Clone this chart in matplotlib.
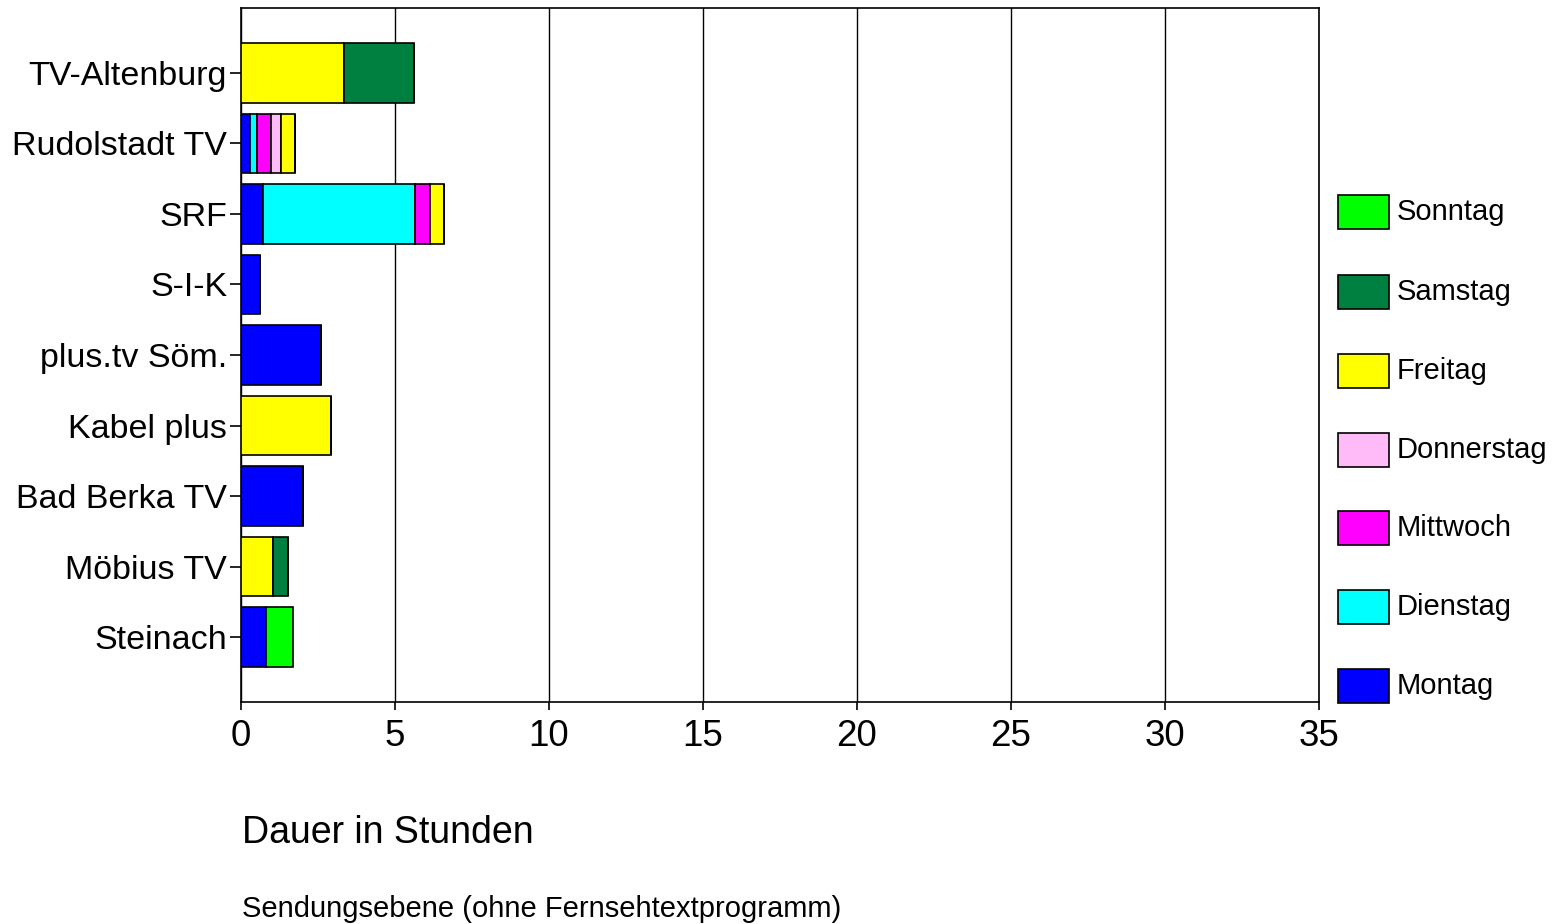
import matplotlib.pyplot as plt
from matplotlib.patches import Rectangle

plt.rcParams['font.family'] = ['Liberation Sans', 'DejaVu Sans']

# Sender von unten nach oben
sender = ["Steinach", "Möbius TV", "Bad Berka TV", "Kabel plus", "plus.tv Söm.",
          "S-I-K", "SRF", "Rudolstadt TV", "TV-Altenburg"]

# Dauer in Stunden je Wochentag
montag     = [0.82, 0.00, 2.01, 0.00, 2.60, 0.62, 0.72, 0.29, 0.00]
dienstag   = [0.00, 0.00, 0.00, 0.00, 0.00, 0.00, 4.94, 0.22, 0.00]
mittwoch   = [0.00, 0.00, 0.00, 0.00, 0.00, 0.00, 0.47, 0.45, 0.00]
donnerstag = [0.00, 0.00, 0.00, 0.00, 0.00, 0.00, 0.00, 0.33, 0.00]
freitag    = [0.00, 1.05, 0.00, 2.92, 0.00, 0.00, 0.45, 0.46, 3.34]
samstag    = [0.00, 0.48, 0.00, 0.00, 0.00, 0.00, 0.00, 0.00, 2.28]
sonntag    = [0.88, 0.00, 0.00, 0.00, 0.00, 0.00, 0.00, 0.00, 0.00]

tage = ["Montag", "Dienstag", "Mittwoch", "Donnerstag", "Freitag", "Samstag", "Sonntag"]
werte = [montag, dienstag, mittwoch, donnerstag, freitag, samstag, sonntag]
farben = ["#0000FF", "#00FFFF", "#FF00FF", "#FFBBF7", "#FFFF00", "#008040", "#00FF00"]

W, H = 1564, 924
fig = plt.figure(figsize=(W / 100, H / 100), dpi=100)
ax = fig.add_axes([241 / W, 1 - 702 / H, (1319 - 241) / W, (702 - 8) / H])

y = list(range(len(sender)))
links = [0.0] * len(sender)
for tag, v, c in zip(tage, werte, farben):
    ax.barh(y, v, left=links, height=0.84, color=c, edgecolor="black", linewidth=1.2, zorder=3)
    links = [a + b for a, b in zip(links, v)]

ax.set_xlim(0, 35)
ax.set_ylim(-0.92, 8.92)
ax.set_xticks(range(0, 36, 5))
ax.set_yticks(y)
ax.set_yticklabels(sender, fontsize=24.5)
ax.tick_params(axis="x", labelsize=26.5, length=6, width=1.2, pad=6)
ax.tick_params(axis="y", length=8, width=1.2, pad=2)
ax.grid(axis="x", color="black", linewidth=1.0, zorder=0)
for s in ax.spines.values():
    s.set_linewidth(1.2)

# Legende rechts, Sonntag oben
leg_y = [212, 292, 371, 450, 528, 607, 686]
for tag, c, yy in zip(reversed(tage), reversed(farben), leg_y):
    fig.add_artist(Rectangle((1338 / W, 1 - (yy + 17) / H), 51 / W, 34 / H,
                             transform=fig.transFigure, facecolor=c,
                             edgecolor="black", linewidth=1.2))
    fig.text(1397 / W, 1 - yy / H, tag, fontsize=21, va="center", ha="left")

fig.text(242 / W, 1 - 833 / H, "Dauer in Stunden", fontsize=27, va="center", ha="left")
fig.text(242 / W, 1 - 909 / H, "Sendungsebene (ohne Fernsehtextprogramm)", fontsize=21,
         va="center", ha="left")

fig.savefig("out.png", dpi=100)
